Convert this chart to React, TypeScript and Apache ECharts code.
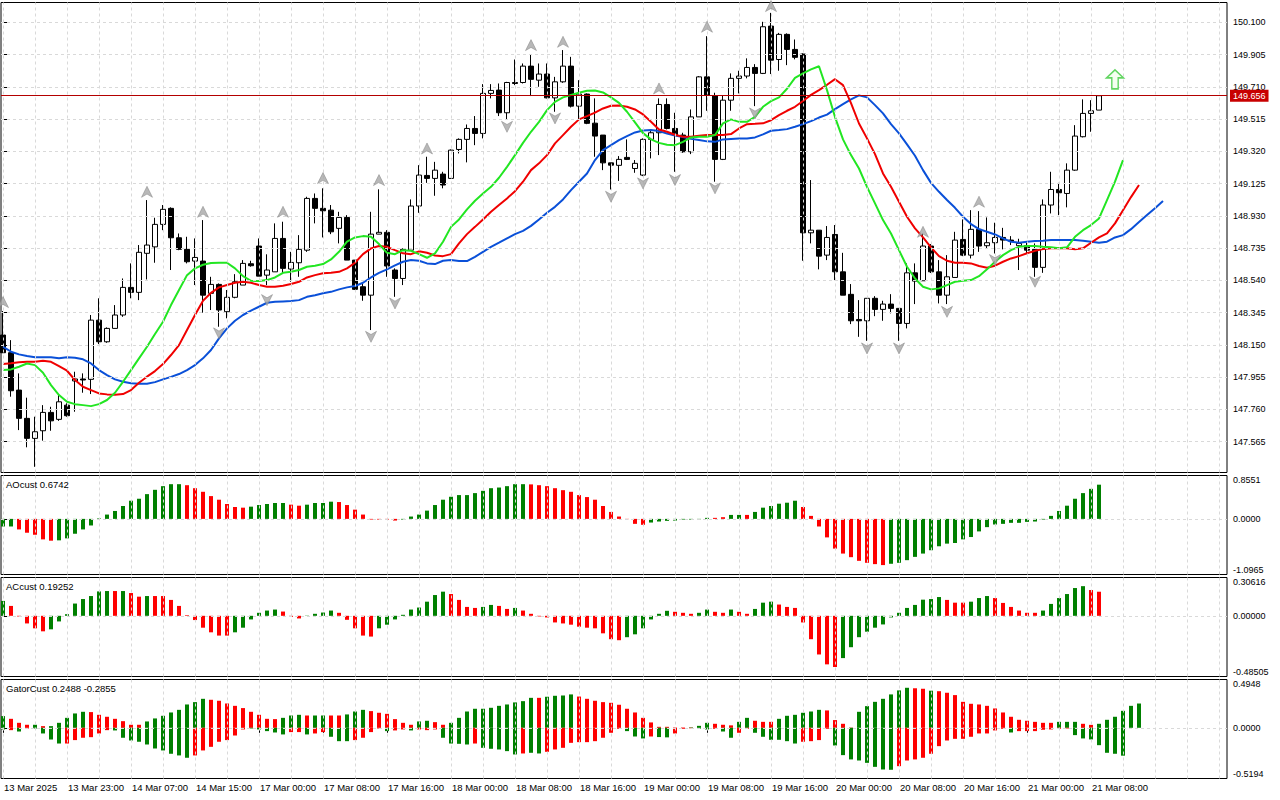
import React, { useEffect, useRef } from "react";
import * as echarts from "echarts";

// ---------- price data (hourly candles, index 0 = 13 Mar 15:00) ----------
const OPEN = [148.209,148.102,147.876,147.705,147.584,147.630,147.741,147.699,147.785,147.931,
147.943,147.941,148.299,148.168,148.249,148.330,148.497,148.467,148.703,148.742,
148.878,148.975,148.797,148.727,148.656,148.656,148.461,148.515,148.350,148.437,
148.511,148.640,148.747,148.571,148.591,148.793,148.608,148.646,148.722,149.035,
148.975,148.964,148.854,148.920,148.662,148.501,148.450,148.819,148.830,148.602,
148.551,148.722,148.989,149.174,149.156,149.182,149.156,149.331,149.392,149.458,
149.428,149.670,149.690,149.553,149.736,149.736,149.835,149.750,149.787,149.643,
149.740,149.835,149.593,149.666,149.490,149.418,149.250,149.235,149.283,149.216,
149.176,149.392,149.432,149.603,149.458,149.418,149.317,149.528,149.770,149.655,
149.271,149.629,149.761,149.775,149.827,149.791,150.077,149.875,150.027,149.936,
149.908,148.827,148.843,148.692,148.817,148.591,148.455,148.303,148.295,148.431,
148.364,148.396,148.370,148.279,148.585,148.537,148.747,148.591,148.450,148.557,
148.787,148.692,148.848,148.749,148.767,148.799,148.783,148.749,148.749,148.727,
148.618,148.995,149.089,149.065,149.206,149.408,149.549,149.569];
const HIGH = [148.354,148.178,147.977,147.830,147.715,147.785,147.775,147.852,147.796,147.987,
147.977,148.330,148.431,148.255,148.390,148.551,148.642,148.753,149.025,148.918,
148.995,148.981,148.823,148.803,148.793,148.904,148.561,148.521,148.481,148.577,
148.662,148.658,148.793,148.697,148.884,148.894,148.712,148.813,149.045,149.065,
149.096,148.995,148.954,148.934,148.662,148.521,148.954,149.090,148.843,148.612,
148.733,149.029,149.236,149.287,149.256,149.196,149.331,149.398,149.482,149.533,
149.726,149.726,149.730,149.740,149.875,149.851,149.905,149.851,149.851,149.770,
149.932,149.891,149.750,149.670,149.640,149.418,149.250,149.291,149.392,149.267,
149.398,149.448,149.640,149.640,149.553,149.432,149.573,149.775,150.016,149.674,
149.660,149.791,149.807,149.882,149.847,150.103,150.157,150.036,150.033,149.996,
149.912,149.146,148.843,148.868,148.874,148.706,148.517,148.420,148.431,148.444,
148.416,148.456,148.370,148.642,148.642,148.823,148.759,148.662,148.692,148.833,
148.908,148.964,148.958,148.920,148.888,148.857,148.807,148.791,148.767,148.763,
149.029,149.196,149.129,149.247,149.478,149.634,149.629,149.660];
const LOW = [148.100,147.836,147.634,147.530,147.412,147.570,147.630,147.690,147.715,147.745,
147.860,147.852,148.154,148.162,148.249,148.319,148.431,148.420,148.545,148.646,
148.843,148.602,148.722,148.642,148.511,148.344,148.360,148.259,148.310,148.431,
148.511,148.622,148.565,148.511,148.591,148.582,148.531,148.561,148.712,148.884,
148.799,148.819,148.763,148.662,148.481,148.416,148.239,148.819,148.561,148.440,
148.511,148.722,148.948,149.129,149.051,149.096,149.156,149.307,149.253,149.357,
149.398,149.640,149.533,149.513,149.720,149.730,149.654,149.710,149.640,149.559,
149.734,149.585,149.513,149.484,149.287,149.206,149.089,149.141,149.267,149.190,
149.170,149.277,149.297,149.452,149.196,149.311,149.303,149.528,149.565,149.136,
149.267,149.565,149.670,149.761,149.593,149.787,149.787,149.807,149.841,149.876,
148.658,148.763,148.606,148.662,148.541,148.450,148.275,148.198,148.174,148.323,
148.295,148.340,148.174,148.249,148.396,148.537,148.584,148.400,148.396,148.557,
148.686,148.672,148.712,148.733,148.702,148.727,148.753,148.602,148.702,148.561,
148.585,148.944,148.934,148.981,149.202,149.404,149.438,149.569];
const CLOSE = [148.102,147.872,147.705,147.584,147.624,147.741,147.690,147.805,147.721,147.943,
147.937,148.299,148.168,148.249,148.330,148.497,148.467,148.709,148.753,148.878,
148.969,148.797,148.727,148.652,148.678,148.450,148.515,148.360,148.437,148.531,
148.642,148.628,148.565,148.602,148.793,148.612,148.648,148.727,149.035,148.975,
148.960,148.833,148.920,148.662,148.485,148.450,148.819,148.830,148.626,148.551,
148.727,148.989,149.176,149.156,149.206,149.116,149.327,149.392,149.458,149.428,
149.670,149.688,149.553,149.736,149.730,149.835,149.755,149.787,149.643,149.740,
149.835,149.593,149.666,149.489,149.412,149.250,149.236,149.271,149.271,149.247,
149.392,149.432,149.603,149.458,149.418,149.317,149.528,149.770,149.660,149.271,
149.629,149.761,149.775,149.827,149.791,150.073,149.871,150.027,149.936,149.888,
148.827,148.843,148.686,148.799,148.591,148.450,148.295,148.295,148.431,148.364,
148.396,148.370,148.279,148.585,148.535,148.747,148.591,148.450,148.561,148.783,
148.692,148.848,148.747,148.767,148.799,148.783,148.777,148.763,148.722,148.618,
148.995,149.089,149.069,149.206,149.412,149.549,149.565,149.656];

// ---------- Alligator lines (already shifted into the future) ----------
const JAW = [148.138,148.108,148.092,148.082,148.074,148.074,148.074,148.068,148.074,148.071,
148.062,148.037,147.997,147.967,147.941,147.926,147.917,147.914,147.914,147.924,
147.941,147.956,147.973,147.997,148.027,148.068,148.118,148.189,148.249,148.295,
148.330,148.356,148.380,148.404,148.410,148.412,148.414,148.420,148.440,148.450,
148.461,148.470,148.485,148.497,148.505,148.525,148.557,148.585,148.606,148.630,
148.652,148.662,148.658,148.642,148.638,148.658,148.662,148.656,148.656,148.682,
148.712,148.742,148.767,148.793,148.819,148.839,148.869,148.908,148.948,148.984,
149.029,149.085,149.136,149.186,149.267,149.327,149.357,149.388,149.412,149.434,
149.446,149.448,149.442,149.428,149.416,149.406,149.395,149.388,149.380,149.377,
149.392,149.395,149.398,149.398,149.404,149.422,149.444,149.448,149.454,149.468,
149.484,149.502,149.524,149.542,149.575,149.605,149.634,149.658,149.646,149.599,
149.549,149.484,149.428,149.362,149.293,149.206,149.129,149.075,149.025,148.978,
148.924,148.880,148.849,148.833,148.817,148.793,148.773,148.767,148.773,148.777,
148.779,148.783,148.783,148.783,148.783,148.779,148.773,148.767,148.773,148.799,
148.813,148.849,148.892,148.934,148.976,149.019];
const TEETH = [148.033,148.038,148.044,148.047,148.047,148.053,148.047,148.021,147.993,147.937,
147.896,147.876,147.856,147.850,147.848,147.852,147.876,147.920,147.957,147.991,
148.033,148.088,148.148,148.239,148.330,148.416,148.464,148.497,148.511,148.525,
148.531,148.525,148.511,148.501,148.501,148.507,148.517,148.531,148.557,148.571,
148.582,148.585,148.591,148.612,148.646,148.698,148.733,148.747,148.742,148.722,
148.703,148.698,148.715,148.706,148.690,148.686,148.698,148.763,148.819,148.863,
148.908,148.954,148.995,149.035,149.079,149.136,149.206,149.247,149.297,149.368,
149.418,149.468,149.513,149.533,149.554,149.579,149.595,149.597,149.589,149.573,
149.543,149.498,149.452,149.438,149.420,149.408,149.408,149.414,149.418,149.418,
149.418,149.424,149.458,149.484,149.486,149.489,149.508,149.539,149.565,149.589,
149.624,149.661,149.690,149.722,149.756,149.720,149.611,149.488,149.398,149.303,
149.186,149.105,149.015,148.924,148.854,148.799,148.739,148.686,148.658,148.646,
148.646,148.642,148.626,148.616,148.628,148.652,148.672,148.686,148.703,148.718,
148.729,148.733,148.733,148.733,148.727,148.733,148.767,148.799,148.823,148.884,
148.964,149.043,149.116];
const LIPS = [147.997,148.001,148.017,148.037,148.027,147.981,147.906,147.846,147.805,147.791,
147.785,147.779,147.791,147.816,147.860,147.926,147.997,148.068,148.138,148.215,
148.289,148.390,148.481,148.571,148.612,148.634,148.644,148.646,148.646,148.612,
148.565,148.537,148.535,148.541,148.557,148.585,148.591,148.602,148.622,148.628,
148.638,148.666,148.712,148.773,148.799,148.807,148.803,148.759,148.706,148.698,
148.722,148.718,148.698,148.676,148.703,148.773,148.863,148.908,148.969,149.021,
149.065,149.105,149.160,149.226,149.297,149.371,149.438,149.498,149.569,149.619,
149.646,149.660,149.674,149.686,149.688,149.676,149.646,149.613,149.559,149.495,
149.430,149.392,149.371,149.359,149.357,149.377,149.404,149.408,149.408,149.418,
149.489,149.513,149.498,149.498,149.528,149.589,149.623,149.646,149.698,149.764,
149.791,149.815,149.834,149.690,149.527,149.392,149.297,149.216,149.105,149.005,
148.904,148.823,148.722,148.622,148.551,148.501,148.485,148.491,148.511,148.531,
148.537,148.541,148.565,148.606,148.652,148.692,148.722,148.742,148.747,148.747,
148.742,148.739,148.733,148.739,148.803,148.843,148.874,148.914,149.025,149.136,
149.267];

// ---------- fractals & signal ----------
const UP_FRACTAL_IDX = [0,18,25,35,40,47,53,66,70,82,88,96,115,122];
const UP_FRACTAL_PRICE = [148.408,149.075,148.954,148.954,149.158,149.146,149.337,149.962,149.982,149.700,150.073,150.198,148.833,149.015];
const DN_FRACTAL_IDX = [27,33,46,49,63,69,76,80,84,89,94,108,112,118,124,129];
const DN_FRACTAL_PRICE = [148.219,148.420,148.198,148.400,149.468,149.519,149.045,149.126,149.146,149.096,149.549,148.128,148.128,148.349,148.662,148.531];
const SIGNAL_IDX = 139;
const SIGNAL_PRICE = 149.755;

// ---------- oscillators ----------
const AO = [-0.150,-0.150,-0.208,-0.273,-0.313,-0.404,-0.430,-0.423,-0.384,-0.293,
-0.208,-0.130,0.010,0.085,0.156,0.254,0.358,0.397,0.488,0.573,
0.645,0.684,0.684,0.664,0.605,0.534,0.449,0.378,0.293,0.234,
0.221,0.241,0.273,0.293,0.313,0.313,0.280,0.260,0.280,0.313,
0.313,0.339,0.332,0.273,0.182,0.085,-0.013,-0.013,-0.013,-0.033,
-0.013,0.046,0.085,0.163,0.273,0.378,0.436,0.469,0.469,0.508,
0.553,0.605,0.618,0.645,0.684,0.684,0.680,0.664,0.645,0.605,
0.566,0.534,0.469,0.430,0.378,0.254,0.137,0.046,-0.005,-0.098,
-0.117,-0.072,-0.052,-0.039,-0.033,-0.013,-0.013,-0.007,0.020,0.020,
0.033,0.078,0.078,0.078,0.137,0.221,0.254,0.299,0.319,0.358,
0.234,0.059,-0.150,-0.365,-0.586,-0.684,-0.755,-0.827,-0.866,-0.892,
-0.911,-0.885,-0.866,-0.814,-0.749,-0.684,-0.618,-0.540,-0.488,-0.475,
-0.404,-0.358,-0.247,-0.163,-0.111,-0.098,-0.078,-0.078,-0.059,-0.052,
-0.013,0.059,0.156,0.260,0.397,0.508,0.592,0.6742];
const AO_COLORS = "ggrrrrrggg" + "gggggggggg" + "gggrrrrrrr" + "rgggggrrgg" + "ggrrrrrrrr" +
  "gggggggggg" + "ggggggrrrr" + "rrrrrrrrrr" + "rggggggggr" + "rggrgggggg" +
  "rrrrrrrrrr" + "rggggggggg" + "gggggggggg" + "gggggggg";

const AC = [0.119,0.079,-0.005,-0.061,-0.100,-0.124,-0.108,-0.045,0.013,0.098,
0.134,0.158,0.195,0.198,0.198,0.198,0.182,0.153,0.158,0.158,
0.158,0.127,0.079,0.005,-0.034,-0.095,-0.132,-0.158,-0.158,-0.132,
-0.095,-0.029,0.024,0.042,0.050,0.034,-0.008,-0.021,0.002,0.016,
0.026,0.042,0.024,-0.032,-0.100,-0.158,-0.166,-0.100,-0.071,-0.029,
0.008,0.050,0.066,0.113,0.166,0.193,0.174,0.127,0.071,0.063,
0.071,0.087,0.079,0.055,0.063,0.042,0.016,-0.005,-0.013,-0.053,
-0.061,-0.071,-0.087,-0.095,-0.100,-0.140,-0.187,-0.195,-0.171,-0.148,
-0.100,-0.029,0.016,0.040,0.032,0.024,0.016,0.024,0.050,0.032,
0.024,0.050,0.032,0.016,0.055,0.105,0.113,0.090,0.071,0.063,
-0.053,-0.187,-0.309,-0.388,-0.409,-0.338,-0.251,-0.171,-0.127,-0.095,
-0.069,-0.013,0.024,0.063,0.087,0.129,0.134,0.150,0.127,0.105,
0.105,0.113,0.142,0.158,0.142,0.103,0.071,0.042,0.024,0.024,
0.042,0.095,0.142,0.174,0.222,0.237,0.206,0.19252];
const AC_COLORS = "grrrrrgggg" + "ggggrgrrgr" + "rrrrrrrrrg" + "gggggrrrgg" + "ggrrrrrggg" +
  "ggggggrrrr" + "ggrrgrrrrr" + "rrrrrrrrgg" + "ggggrrrggr" + "rgrrgggrrr" +
  "rrrrrggggg" + "ggggggggrr" + "rgggrrrrrr" + "ggggggrr";

const GATOR_UP = [0.120,0.092,0.051,0.031,0.031,0.017,0.017,0.051,0.102,0.147,
0.164,0.161,0.133,0.113,0.092,0.068,0.031,0.031,0.065,0.096,
0.123,0.157,0.184,0.239,0.263,0.297,0.287,0.277,0.249,0.225,
0.202,0.164,0.133,0.092,0.089,0.102,0.126,0.133,0.126,0.126,
0.126,0.126,0.126,0.137,0.167,0.184,0.171,0.154,0.143,0.089,
0.051,0.031,0.065,0.072,0.058,0.031,0.051,0.102,0.167,0.195,
0.195,0.205,0.225,0.239,0.260,0.273,0.307,0.307,0.318,0.328,
0.331,0.342,0.320,0.297,0.277,0.263,0.256,0.236,0.195,0.157,
0.102,0.055,0.010,0.010,0.003,0.003,0.005,0.020,0.051,0.041,
0.031,0.025,0.061,0.102,0.072,0.061,0.061,0.092,0.123,0.133,
0.154,0.167,0.184,0.178,0.079,0.041,0.003,0.164,0.222,0.266,
0.297,0.342,0.383,0.410,0.405,0.400,0.380,0.375,0.359,0.335,
0.266,0.246,0.239,0.225,0.198,0.157,0.113,0.082,0.072,0.061,
0.051,0.051,0.061,0.061,0.061,0.041,0.030,0.041,0.082,0.113,
0.174,0.225,0.2488];
const GATOR_UP_COLORS = "grrrgrgggg" + "grrrrrrrgg" + "ggggggrrrr" + "rrrrrgggrg" + "grrgggrrrr" +
  "rrggrrgggg" + "gggggggrgg" + "ggrrrrrrrr" + "rrrrrrgggr" + "rrggrrrggg" +
  "gggrrrrggg" + "ggggrrgrrr" + "rrrrrrrrrr" + "rrgggrrggg" + "ggg";
const GATOR_DN = [-0.017,-0.024,-0.038,-0.007,-0.007,-0.058,-0.120,-0.161,-0.161,-0.126,
-0.102,-0.096,-0.058,-0.024,-0.027,-0.102,-0.130,-0.143,-0.171,-0.212,
-0.232,-0.266,-0.283,-0.307,-0.283,-0.232,-0.195,-0.143,-0.126,-0.079,
-0.017,-0.007,-0.017,-0.034,-0.048,-0.068,-0.044,-0.044,-0.068,-0.058,
-0.044,-0.092,-0.137,-0.137,-0.126,-0.102,-0.044,-0.007,-0.034,-0.027,
-0.017,-0.027,-0.017,-0.024,-0.017,-0.102,-0.161,-0.164,-0.171,-0.161,
-0.205,-0.215,-0.222,-0.239,-0.273,-0.263,-0.256,-0.263,-0.246,-0.222,
-0.205,-0.154,-0.147,-0.147,-0.137,-0.102,-0.051,-0.010,-0.034,-0.089,
-0.109,-0.089,-0.095,-0.098,-0.058,-0.010,-0.005,-0.008,-0.017,-0.010,
-0.038,-0.102,-0.051,-0.010,-0.051,-0.092,-0.123,-0.123,-0.137,-0.161,
-0.143,-0.137,-0.126,-0.010,-0.181,-0.280,-0.324,-0.335,-0.359,-0.400,
-0.427,-0.430,-0.393,-0.335,-0.324,-0.307,-0.266,-0.188,-0.130,-0.113,
-0.113,-0.092,-0.058,-0.058,-0.027,-0.010,-0.048,-0.034,-0.034,-0.034,
-0.020,-0.017,-0.010,-0.007,-0.075,-0.109,-0.119,-0.178,-0.256,-0.266,
-0.2855];
const GATOR_DN_COLORS = "grgrggggrr" + "rrrrgggggg" + "ggggrrrrrr" + "rgggggrrgr" + "rgggrrrrgr" +
  "rgrrrggggr" + "gggggrggrr" + "rrrrrrrrgg" + "grggrrrggr" + "ggrrgggggg" +
  "rrrrgggggg" + "ggrrrrrrrr" + "rrrrrrgrrr" + "rrrrgggggg" + "g";

// ---------- axes ----------
const PRICE_TICKS = [147.565,147.760,147.955,148.150,148.345,148.540,148.735,148.930,149.125,149.320,149.515,149.710,149.905,150.100];
const PRICE_MIN = 147.3776;
const PRICE_MAX = 150.2197;
const AO_RANGE = [-1.0965, 0.8551];
const AC_RANGE = [-0.48505, 0.30616];
const GATOR_RANGE = [-0.5194, 0.4948];
const TIME_LABELS = ["13 Mar 2025","13 Mar 23:00","14 Mar 07:00","14 Mar 15:00","17 Mar 00:00","17 Mar 08:00",
  "17 Mar 16:00","18 Mar 00:00","18 Mar 08:00","18 Mar 16:00","19 Mar 00:00","19 Mar 08:00",
  "19 Mar 16:00","20 Mar 00:00","20 Mar 08:00","20 Mar 16:00","21 Mar 00:00","21 Mar 08:00"];
const TIME_LABEL_IDX = [0,8,16,24,32,40,48,56,64,72,80,88,96,104,112,120,128,136];
const X_MIN = -0.25;
const X_MAX = 153;

const FONT = "'Liberation Sans', Arial, sans-serif";
const GREEN = "#008000";
const RED = "#FF0000";
const GRID_COLOR = "#D9D9D9";

const VGRID: number[] = [];
for (let k = 0; k <= 152; k += 4) VGRID.push(k);

function gridLineSeries(idx: number, yVals: number[], z: number) {
  return {
    type: "line",
    xAxisIndex: idx,
    yAxisIndex: idx,
    data: [],
    silent: true,
    z,
    markLine: {
      silent: true,
      precision: 5,
      symbol: ["none", "none"],
      animation: false,
      label: { show: false },
      emphasis: { disabled: true },
      lineStyle: { color: GRID_COLOR, type: [3, 3], width: 1 },
      data: [...VGRID.map((x) => ({ xAxis: x })), ...yVals.map((y) => ({ yAxis: y }))],
    },
  };
}

function zeroLineSeries(idx: number) {
  return {
    type: "line",
    xAxisIndex: idx,
    yAxisIndex: idx,
    data: [],
    silent: true,
    z: 10,
    markLine: {
      silent: true,
      precision: 5,
      symbol: ["none", "none"],
      animation: false,
      label: { show: false },
      emphasis: { disabled: true },
      lineStyle: { color: GRID_COLOR, type: [3, 3], width: 1 },
      data: [{ yAxis: 0 }],
    },
  };
}

function histData(values: number[], colors: string) {
  return values.map((v, i) => ({
    value: [i, v],
    itemStyle: { color: colors[i] === "g" ? GREEN : RED },
  }));
}

function buildOption() {
  const panels = [
    { top: 2.5, height: 470 },
    { top: 475.5, height: 99 },
    { top: 577.5, height: 99 },
    { top: 679.5, height: 99 },
  ];
  const labelStyle = { color: "#000", fontFamily: FONT, fontSize: 9 };

  const xAxis = panels.map((_, i) => {
    const base: any = {
      type: "value",
      gridIndex: i,
      min: X_MIN,
      max: X_MAX,
      splitLine: { show: false },
      axisLine: { show: false },
    };
    if (i < 3) {
      base.axisTick = { show: false };
      base.axisLabel = { show: false };
    } else {
      base.position = "bottom";
      base.axisTick = { show: true, customValues: TIME_LABEL_IDX, length: 5, lineStyle: { color: "#000" } };
      base.axisLabel = {
        show: true,
        customValues: TIME_LABEL_IDX,
        formatter: (v: number) => TIME_LABELS[TIME_LABEL_IDX.indexOf(Math.round(v))] || "",
        align: "left",
        margin: 4,
        padding: [0, 0, 0, 1],
        ...labelStyle,
        fontSize: 9.5,
      };
    }
    return base;
  });

  const subY = (i: number, range: number[], digits: number) => {
    const vals = [range[0], 0, range[1]];
    return {
      type: "value",
      gridIndex: i,
      position: "right",
      min: range[0],
      max: range[1],
      splitLine: { show: false },
      axisLine: { show: false },
      axisTick: { show: true, customValues: vals, length: 4, lineStyle: { color: "#000" } },
      axisLabel: {
        customValues: vals,
        formatter: (v: number) => v.toFixed(digits),
        margin: 6,
        verticalAlignMinLabel: "bottom",
        verticalAlignMaxLabel: "top",
        ...labelStyle,
      },
    };
  };

  const yAxis = [
    {
      type: "value",
      gridIndex: 0,
      position: "right",
      min: PRICE_MIN,
      max: PRICE_MAX,
      splitLine: { show: false },
      axisLine: { show: false },
      axisTick: { show: true, customValues: PRICE_TICKS, length: 4, lineStyle: { color: "#000" } },
      axisLabel: { customValues: PRICE_TICKS, formatter: (v: number) => v.toFixed(3), margin: 6, ...labelStyle },
    },
    subY(1, AO_RANGE, 4),
    subY(2, AC_RANGE, 5),
    subY(3, GATOR_RANGE, 4),
  ];

  const candles = OPEN.map((o, i) => [i, o, CLOSE[i], LOW[i], HIGH[i]]);
  const lastPrice = CLOSE[CLOSE.length - 1];

  const upArrow = "path://M6,0 L12,12 L6,8.5 L0,12 Z";
  const downArrow = "path://M0,0 L6,3.5 L12,0 L6,12 Z";
  const signalArrow = "path://M8,0 L16,8 L11,8 L11,19 L5,19 L5,8 L0,8 Z";

  const series: any[] = [
    gridLineSeries(0, PRICE_TICKS, 0),
    gridLineSeries(1, [], 0),
    gridLineSeries(2, [], 0),
    gridLineSeries(3, [], 0),
    {
      type: "candlestick",
      xAxisIndex: 0,
      yAxisIndex: 0,
      data: candles,
      barWidth: 5,
      z: 3,
      itemStyle: { color: "#FFFFFF", color0: "#000000", borderColor: "#000000", borderColor0: "#000000", borderWidth: 1 },
      markLine: {
        silent: true,
        precision: 5,
        symbol: ["none", "none"],
        animation: false,
        emphasis: { disabled: true },
        lineStyle: { color: "#B40000", width: 1, type: "solid" },
        label: {
          show: true,
          position: "end",
          distance: 3,
          formatter: () => lastPrice.toFixed(3),
          color: "#FFFFFF",
          backgroundColor: "#C80000",
          padding: [2, 3, 1, 3],
          fontFamily: FONT,
          fontSize: 9,
        },
        data: [{ yAxis: lastPrice }],
      },
    },
    {
      type: "line", xAxisIndex: 0, yAxisIndex: 0, z: 4, showSymbol: false, silent: true,
      data: JAW.map((v, i) => [i, v]), lineStyle: { color: "#0A50D8", width: 2 },
    },
    {
      type: "line", xAxisIndex: 0, yAxisIndex: 0, z: 4, showSymbol: false, silent: true,
      data: TEETH.map((v, i) => [i, v]), lineStyle: { color: "#F00000", width: 2 },
    },
    {
      type: "line", xAxisIndex: 0, yAxisIndex: 0, z: 4, showSymbol: false, silent: true,
      data: LIPS.map((v, i) => [i, v]), lineStyle: { color: "#22E622", width: 2 },
    },
    {
      type: "scatter", xAxisIndex: 0, yAxisIndex: 0, z: 5, silent: true,
      symbol: upArrow, symbolSize: [11, 11],
      itemStyle: { color: "#A6A6A6", borderColor: "#7F7F7F", borderWidth: 0.6 },
      data: UP_FRACTAL_IDX.map((x, k) => [x, UP_FRACTAL_PRICE[k]]),
    },
    {
      type: "scatter", xAxisIndex: 0, yAxisIndex: 0, z: 5, silent: true,
      symbol: downArrow, symbolSize: [11, 11],
      itemStyle: { color: "#A6A6A6", borderColor: "#7F7F7F", borderWidth: 0.6 },
      data: DN_FRACTAL_IDX.map((x, k) => [x, DN_FRACTAL_PRICE[k]]),
    },
    {
      type: "scatter", xAxisIndex: 0, yAxisIndex: 0, z: 5, silent: true,
      symbol: signalArrow, symbolSize: [17, 19],
      itemStyle: { color: "#F2FFEE", borderColor: "#3CCB3C", borderWidth: 1.5 },
      data: [[SIGNAL_IDX, SIGNAL_PRICE]],
    },
    {
      type: "bar", xAxisIndex: 1, yAxisIndex: 1, barWidth: 4, silent: true, z: 3,
      data: histData(AO, AO_COLORS),
    },
    {
      type: "bar", xAxisIndex: 2, yAxisIndex: 2, barWidth: 4, silent: true, z: 3,
      data: histData(AC, AC_COLORS),
    },
    {
      type: "bar", xAxisIndex: 3, yAxisIndex: 3, barWidth: 4, silent: true, z: 3, stack: "gator",
      data: histData(GATOR_UP, GATOR_UP_COLORS),
    },
    {
      type: "bar", xAxisIndex: 3, yAxisIndex: 3, barWidth: 4, silent: true, z: 3, stack: "gator",
      data: histData(GATOR_DN, GATOR_DN_COLORS),
    },
    zeroLineSeries(1),
    zeroLineSeries(2),
    zeroLineSeries(3),
  ];

  const titleStyle = { fontSize: 9.5, fontWeight: "normal", color: "#000", fontFamily: FONT };
  return {
    animation: false,
    backgroundColor: "#FFFFFF",
    title: [
      { text: `AOcust ${AO[AO.length - 1].toFixed(4)}`, left: 6, top: 479, padding: 0, textStyle: titleStyle },
      { text: `ACcust ${AC[AC.length - 1].toFixed(5)}`, left: 6, top: 581, padding: 0, textStyle: titleStyle },
      {
        text: `GatorCust ${GATOR_UP[GATOR_UP.length - 1].toFixed(4)} ${GATOR_DN[GATOR_DN.length - 1].toFixed(4)}`,
        left: 6, top: 683, padding: 0, textStyle: titleStyle,
      },
    ],
    grid: panels.map((p) => ({
      left: 1,
      right: 53,
      top: p.top,
      height: p.height,
      show: true,
      borderColor: "#000",
      borderWidth: 1,
      backgroundColor: "#FFFFFF",
    })),
    xAxis,
    yAxis,
    series,
  };
}

export default function App() {
  const ref = useRef<HTMLDivElement>(null);
  useEffect(() => {
    document.body.style.margin = "0";
    const chart = echarts.init(ref.current as HTMLDivElement, undefined, { renderer: "svg" });
    chart.setOption(buildOption() as any);
    return () => chart.dispose();
  }, []);
  return <div ref={ref} style={{ width: 1280, height: 800, background: "#fff" }} />;
}
